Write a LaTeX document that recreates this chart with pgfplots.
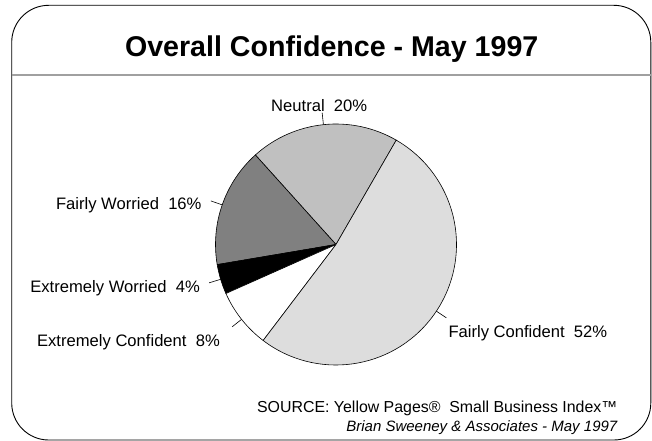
\documentclass[border=0pt]{standalone}
\usepackage{fontspec}
\setmainfont{Liberation Sans}
\usepackage{pgfplots}
\pgfplotsset{compat=1.18}
\definecolor{fconf}{RGB}{221,221,221}
\definecolor{neutral}{RGB}{192,192,192}
\definecolor{fworr}{RGB}{128,128,128}
\definecolor{sepgray}{RGB}{160,160,160}
% wedge: start angle, percent, colour
\newcommand\pwedge[3]{\filldraw[fill=#3,draw=black,line width=0.6bp] (axis cs:336,244.5) -- ++(#1:120.5bp) arc[start angle=#1, delta angle={#2*3.6}, radius=120.5bp] -- cycle;}
% leader: start angle, percent
\newcommand\pleader[2]{\draw[black,line width=0.6bp] (axis cs:336,244.5) ++({#1+#2*1.8}:120.5bp) -- ++({#1+#2*1.8}:12bp);}
\newcommand\lab{\fontsize{16.6bp}{20bp}\selectfont}
\begin{document}
\begin{tikzpicture}
\begin{axis}[
  scale only axis, width=652bp, height=441bp,
  xmin=0, xmax=652, ymin=0, ymax=441, y dir=reverse,
  hide axis, clip=false]
\path (axis cs:0,0) rectangle (axis cs:652,441);
% frame
\draw[black,line width=0.9bp,rounded corners=37bp] (axis cs:11.7,5.3) rectangle (axis cs:650.8,440);
\draw[sepgray,line width=1.3bp] (axis cs:11.7,75) -- (axis cs:650.8,75);
% title
\node[anchor=base,inner sep=0,font=\fontsize{28.6bp}{34bp}\selectfont\bfseries] at (axis cs:331.7,56.7) {Overall Confidence - May 1997};
% pie (percent values)
\pwedge{60}{20}{neutral}
\pwedge{132}{16}{fworr}
\pwedge{189.6}{4}{black}
\pwedge{204}{8}{white}
\pwedge{232.8}{52}{fconf}
\pleader{60}{20}
\pleader{132}{16}
\pleader{189.6}{4}
\pleader{204}{8}
\pleader{232.8}{52}
% labels
\node[anchor=base west,inner sep=0,font=\lab] at (axis cs:271,111.5) {Neutral\ \ 20\%};
\node[anchor=base east,inner sep=0,font=\lab] at (axis cs:201.7,209.3) {Fairly Worried\ \ 16\%};
\node[anchor=base east,inner sep=0,font=\lab] at (axis cs:200,292.7) {Extremely Worried\ \ 4\%};
\node[anchor=base east,inner sep=0,font=\lab] at (axis cs:220,346.7) {Extremely Confident\ \ 8\%};
\node[anchor=base west,inner sep=0,font=\lab] at (axis cs:448.3,337.7) {Fairly Confident\ \ 52\%};
% source
\node[anchor=base east,inner sep=0,font=\fontsize{15.9bp}{19bp}\selectfont] at (axis cs:617.5,412.7) {SOURCE: Yellow Pages®\ \ Small Business Index™};
\node[anchor=base east,inner sep=0,font=\fontsize{15bp}{18bp}\selectfont\itshape] at (axis cs:617.5,431.7) {Brian Sweeney \& Associates - May 1997};
\end{axis}
\end{tikzpicture}
\end{document}
